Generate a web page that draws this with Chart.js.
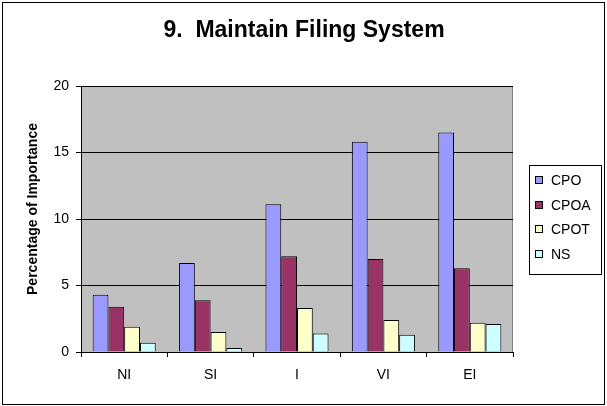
<!DOCTYPE html>
<html>
<head>
<meta charset="utf-8">
<title>Maintain Filing System</title>
<script src="https://cdn.jsdelivr.net/npm/chart.js@4/dist/chart.umd.min.js"></script>
<style>
    body { margin: 0; background: #ffffff; }
    #wrap { width: 607px; height: 406px; }
</style>
</head>
<body>
<div id="wrap"><canvas id="filing-chart" width="607" height="406"></canvas></div>
<script>
const CATEGORIES = ["NI", "SI", "I", "VI", "EI"];

const CPO  = [4.3, 6.7, 11.1, 15.8, 16.5];
const CPOA = [3.4, 3.9, 7.2, 7.0, 6.3];
const CPOT = [1.9, 1.5, 3.3, 2.4, 2.2];
const NS   = [0.7, 0.3, 1.4, 1.3, 2.1];

const SERIES_NAMES = ["CPO", "CPOA", "CPOT", "NS"];
const Y_TICKS = [0, 5, 10, 15, 20];

const CHART_TITLE = "9.  Maintain Filing System";
const Y_TITLE     = "Percentage of Importance";

const SERIES_COLORS = ["#9999ff", "#993366", "#ffffcc", "#ccffff"];

const FONT = "'Liberation Sans', Arial, sans-serif";

// frame, plot background, titles and legend box (Excel look)
const decorPlugin = {
    id: "decor",
    beforeDraw(chart)
    {
        const ctx = chart.ctx;
        const a = chart.chartArea;
        ctx.save();
        ctx.fillStyle = "#ffffff";
        ctx.fillRect(0, 0, chart.width, chart.height);
        ctx.fillStyle = "#c0c0c0";
        ctx.fillRect(a.left, a.top, a.right - a.left, a.bottom - a.top);
        ctx.strokeStyle = "#808080";
        ctx.lineWidth = 1;
        ctx.strokeRect(a.left + 0.5, a.top + 0.5, a.right - a.left - 1, a.bottom - a.top);
        ctx.restore();
    },
    afterDraw(chart)
    {
        const ctx = chart.ctx;
        ctx.save();

        // outer frame
        ctx.strokeStyle = "#000000";
        ctx.lineWidth = 1;
        ctx.strokeRect(2.5, 2.5, 602, 402);

        // chart title, centred on the whole frame
        ctx.fillStyle = "#000000";
        ctx.font = "bold 23px " + FONT;
        ctx.textAlign = "center";
        ctx.textBaseline = "middle";
        ctx.fillText(CHART_TITLE, 304, 31);

        // y axis title
        ctx.translate(33, 209);
        ctx.rotate(-Math.PI / 2);
        ctx.font = "bold 14px " + FONT;
        ctx.fillText(Y_TITLE, 0, 0);
        ctx.setTransform(1, 0, 0, 1, 0, 0);

        // legend
        ctx.fillStyle = "#ffffff";
        ctx.fillRect(529.5, 165.5, 72, 109);
        ctx.strokeRect(529.5, 165.5, 72, 109);
        const rows = [180, 205, 229, 254];
        ctx.font = "14px " + FONT;
        ctx.textAlign = "left";
        chart.data.datasets.forEach((ds, i) => {
            ctx.fillStyle = ds.backgroundColor;
            ctx.fillRect(535.5, rows[i] - 3.5, 7, 7);
            ctx.strokeRect(535.5, rows[i] - 3.5, 7, 7);
            ctx.fillStyle = "#000000";
            ctx.fillText(ds.label, 551, rows[i] + 1);
        });
        ctx.restore();
    }
};

const seriesValues = [CPO, CPOA, CPOT, NS];

const datasets = SERIES_NAMES.map((name, i) => ({
    label: name,
    data: seriesValues[i],
    backgroundColor: SERIES_COLORS[i],
    borderColor: "#000000",
    borderWidth: 1,
    categoryPercentage: 0.73,
    barPercentage: 1.0
}));

const ctx = document.getElementById("filing-chart").getContext("2d");

new Chart(ctx, {
    type: "bar",
    data: { labels: CATEGORIES, datasets },
    plugins: [decorPlugin],
    options: {
        responsive: false,
        animation: false,
        devicePixelRatio: 1,
        layout: { padding: { left: 0, right: 94, top: 86, bottom: 0 } },
        plugins: {
            legend: { display: false },
            tooltip: { enabled: false },
            title: { display: false }
        },
        scales: {
            x: {
                offset: true,
                afterFit: scale => { scale.height = 54; },
                grid: {
                    offset: true,
                    drawOnChartArea: false,
                    drawTicks: true,
                    tickLength: 5,
                    color: "#000000"
                },
                border: { display: true, color: "#000000", width: 1 },
                ticks: {
                    color: "#000000",
                    padding: 10,
                    font: { family: FONT, size: 14 }
                }
            },
            y: {
                min: 0,
                max: 20,
                afterFit: scale => { scale.width = 81; },
                afterBuildTicks: scale => { scale.ticks = Y_TICKS.map(v => ({ value: v })); },
                grid: {
                    color: "#000000",
                    lineWidth: 1,
                    drawTicks: true,
                    tickLength: 5
                },
                border: { display: true, color: "#000000", width: 1 },
                ticks: {
                    color: "#000000",
                    padding: 7,
                    font: { family: FONT, size: 14 }
                }
            }
        }
    }
});
</script>
</body>
</html>
